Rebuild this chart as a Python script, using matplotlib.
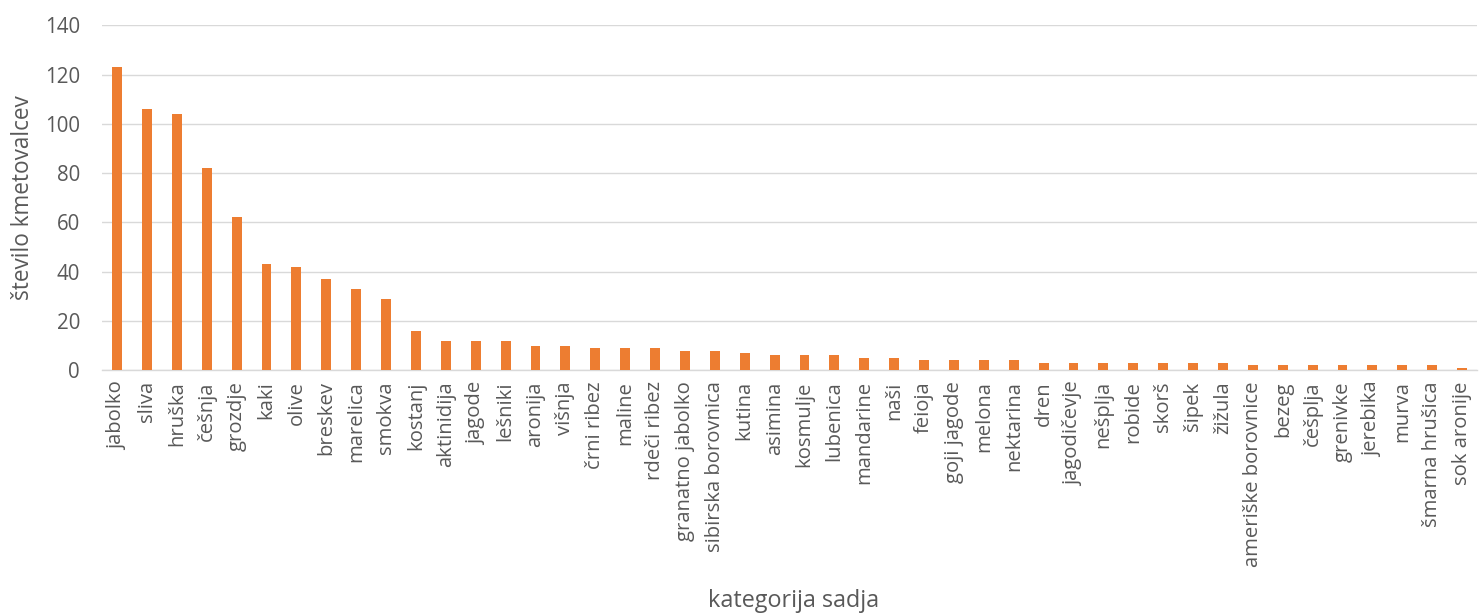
import matplotlib.pyplot as plt
import numpy as np

kategorije = ["jabolko", "sliva", "hruška", "češnja", "grozdje", "kaki", "olive",
              "breskev", "marelica", "smokva", "kostanj", "aktinidija", "jagode",
              "lešniki", "aronija", "višnja", "črni ribez", "maline", "rdeči ribez",
              "granatno jabolko", "sibirska borovnica", "kutina", "asimina",
              "kosmulje", "lubenica", "mandarine", "naši", "feioja", "goji jagode",
              "melona", "nektarina", "dren", "jagodičevje", "nešplja", "robide",
              "skorš", "šipek", "žižula", "ameriške borovnice", "bezeg", "češplja",
              "grenivke", "jerebika", "murva", "šmarna hrušica", "sok aronije"]
kmetovalci = [123, 106, 104, 82, 62, 43, 42, 37, 33, 29, 16, 12, 12, 12, 10, 10,
              9, 9, 9, 8, 8, 7, 6, 6, 6, 5, 5, 4, 4, 4, 4, 3, 3, 3, 3, 3, 3, 3,
              2, 2, 2, 2, 2, 2, 2, 1]

plt.rcParams['font.family'] = ['Open Sans', 'DejaVu Sans']
tc = '#595959'

fig = plt.figure(figsize=(14.8, 6.15), dpi=100)
ax = fig.add_axes([0.069, 0.398, 0.929, 0.561])

x = np.arange(len(kategorije))
ax.bar(x, kmetovalci, width=0.33, color='#ED7D31', zorder=3)

ax.set_xlim(-0.5, len(kategorije) - 0.5)
ax.set_ylim(0, 140)
ax.set_yticks(range(0, 141, 20))
ax.set_xticks(x)
ax.set_xticklabels(kategorije, rotation=90)
ax.tick_params(axis='both', length=0, colors=tc)
ax.tick_params(axis='x', pad=8, labelsize=14.6)
ax.tick_params(axis='y', pad=16, labelsize=14.8)
ax.grid(axis='y', color='#d9d9d9', linewidth=1, zorder=0)
for s in ['top', 'right', 'left']:
    ax.spines[s].set_visible(False)
ax.spines['bottom'].set_color('#d9d9d9')
ax.spines['bottom'].set_linewidth(1)

ax.set_ylabel('število kmetovalcev', fontsize=16.3, color=tc)
ax.yaxis.set_label_coords(-0.049, 0.5)
fig.text(0.536, 0.013, 'kategorija sadja', fontsize=16.8, color=tc, ha='center')

fig.savefig('out.png', dpi=100)
